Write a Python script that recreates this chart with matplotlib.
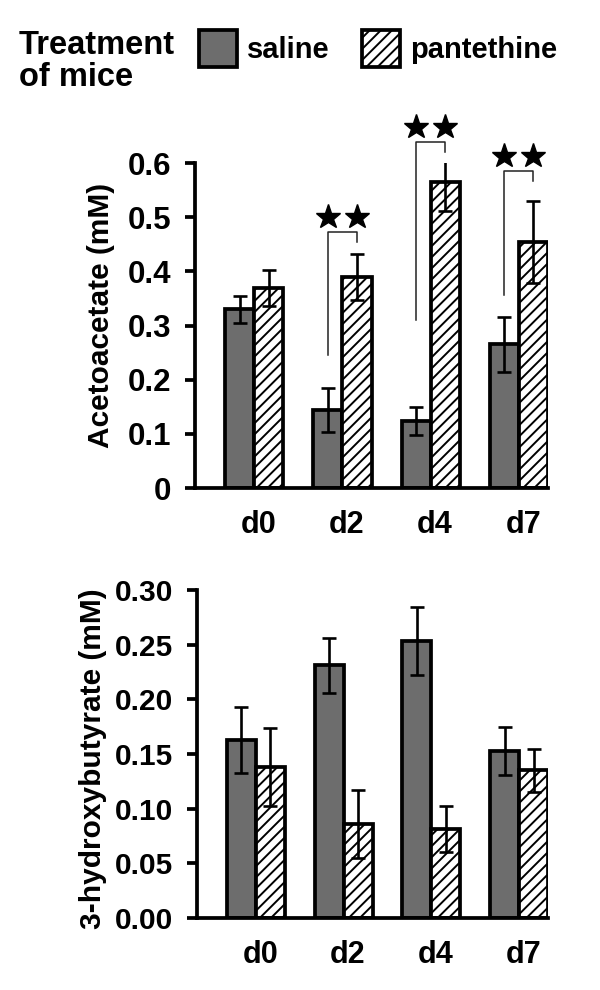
import numpy as np
import matplotlib
matplotlib.use('Agg')
import matplotlib.pyplot as plt

# ---------------------------------------------------------
# data
# ---------------------------------------------------------
days = ['d0', 'd2', 'd4', 'd7']

aceto_saline = [0.330, 0.144, 0.124, 0.265]
aceto_saline_err = [0.025, 0.040, 0.026, 0.051]
aceto_pant = [0.369, 0.390, 0.565, 0.454]
aceto_pant_err = [0.033, 0.042, 0.054, 0.075]

hb_saline = [0.163, 0.231, 0.253, 0.153]
hb_saline_err = [0.030, 0.025, 0.031, 0.022]
hb_pant = [0.138, 0.086, 0.081, 0.135]
hb_pant_err = [0.036, 0.031, 0.021, 0.020]

aceto_ticks = [0, 0.1, 0.2, 0.3, 0.4, 0.5, 0.6]
aceto_ticklabels = ['0', '0.1', '0.2', '0.3', '0.4', '0.5', '0.6']
hb_ticks = [0, 0.05, 0.10, 0.15, 0.20, 0.25, 0.30]
hb_ticklabels = ['0.00', '0.05', '0.10', '0.15', '0.20', '0.25', '0.30']

# significance brackets (acetoacetate panel): group index, bracket top, leg ends
sig_groups = [1, 2, 3]
sig_top = [0.473, 0.639, 0.585]
sig_left_end = [0.245, 0.310, 0.357]
sig_right_end = [0.455, 0.621, 0.567]

# ---------------------------------------------------------
# style
# ---------------------------------------------------------
plt.rcParams['font.family'] = ['Liberation Sans', 'DejaVu Sans']
plt.rcParams['font.weight'] = 'bold'
plt.rcParams['hatch.linewidth'] = 1.4

saline_color = '#6d6d6d'
edge_w = 2.7
bar_w = 0.33
x = np.arange(len(days))

fig = plt.figure(figsize=(6.0, 9.9), dpi=100)
W, H = 600.0, 990.0


def px_axes(left, right, top, bottom):
    return fig.add_axes([left / W, 1 - bottom / H, (right - left) / W, (bottom - top) / H])


def draw_panel(ax, saline, saline_err, pant, pant_err, ticks, ticklabels, ylabel, ymax, tick_fs):
    err_kw = dict(ecolor='black', elinewidth=1.9, capsize=5, capthick=1.9)
    b1 = ax.bar(x - bar_w / 2, saline, bar_w, yerr=saline_err, color=saline_color,
                edgecolor='black', linewidth=edge_w, error_kw=err_kw)
    b2 = ax.bar(x + bar_w / 2, pant, bar_w, yerr=pant_err, color='white',
                edgecolor='black', linewidth=edge_w, hatch='///', error_kw=err_kw)
    ax.set_xlim(-0.67, 3.33)
    ax.set_ylim(0, ymax)
    ax.spines['top'].set_visible(False)
    ax.spines['right'].set_visible(False)
    ax.spines['left'].set_linewidth(edge_w)
    ax.spines['bottom'].set_linewidth(edge_w)
    ax.set_yticks(ticks)
    ax.set_yticklabels(ticklabels)
    ax.tick_params(axis='y', direction='out', length=7, width=edge_w, pad=10, labelsize=tick_fs)
    ax.set_xticks(x + 0.05)
    ax.set_xticklabels(days)
    ax.tick_params(axis='x', length=0, pad=16, labelsize=22)
    ax.set_ylabel(ylabel, fontsize=21.5, fontweight='bold')
    ax.yaxis.label.set_verticalalignment('center')
    ax.set_facecolor('none')
    return b1, b2


# ---------------------------------------------------------
# top panel: acetoacetate
# ---------------------------------------------------------
ax1 = px_axes(195, 548, 163, 488)
b_sal, b_pan = draw_panel(ax1, aceto_saline, aceto_saline_err, aceto_pant, aceto_pant_err,
                          aceto_ticks, aceto_ticklabels, 'Acetoacetate (mM)', 0.6, 22.5)
ax1.yaxis.set_label_coords(-0.266, 0.532)

for g, top, le, re in zip(sig_groups, sig_top, sig_left_end, sig_right_end):
    xl = g - bar_w / 2
    xr = g + bar_w / 2
    ax1.plot([xl, xl, xr, xr], [le, top, top, re], color='#222222', lw=1.1, clip_on=False)
    ax1.plot([xl, xr], [top + 0.028, top + 0.028], linestyle='none', marker='*',
             markersize=18.5, color='black', clip_on=False)

# ---------------------------------------------------------
# bottom panel: 3-hydroxybutyrate
# ---------------------------------------------------------
ax2 = px_axes(197, 548, 590, 918)
draw_panel(ax2, hb_saline, hb_saline_err, hb_pant, hb_pant_err,
           hb_ticks, hb_ticklabels, '3-hydroxybutyrate (mM)', 0.30, 21.5)
ax2.yaxis.set_label_coords(-0.296, 0.486)

# ---------------------------------------------------------
# legend header
# ---------------------------------------------------------
fig.text(19 / W, 1 - 30 / H, 'Treatment\nof mice', fontsize=23.5, fontweight='bold',
         ha='left', va='top', linespacing=1.05)
fig.legend([b_sal, b_pan], ['saline', 'pantethine'], ncol=2, loc='upper left',
           bbox_to_anchor=(199 / W, 1 - 30 / H), frameon=False,
           prop={'weight': 'bold', 'size': 21},
           handlelength=1.3, handleheight=1.55, handletextpad=0.35,
           columnspacing=1.1, borderpad=0, borderaxespad=0)

fig.savefig('out.png', dpi=100)
